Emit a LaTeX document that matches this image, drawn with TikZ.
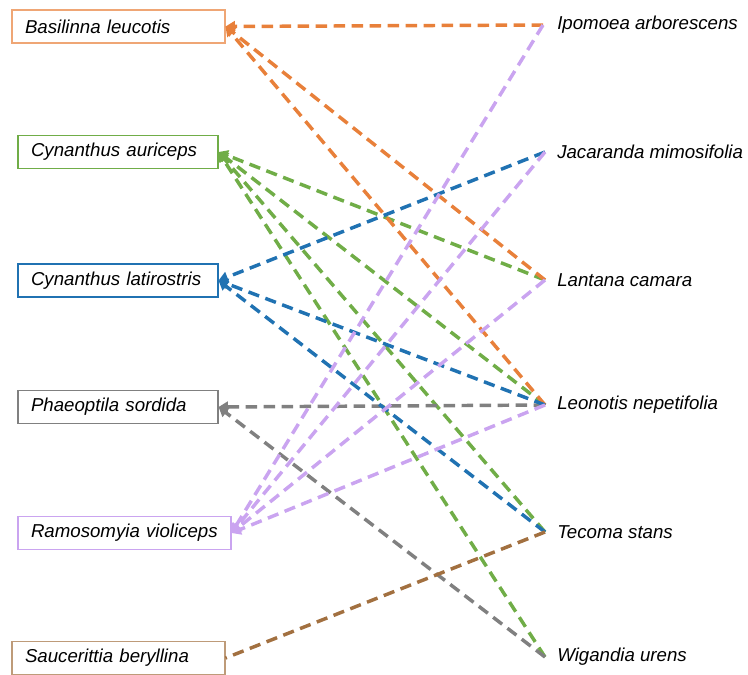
\documentclass[tikz,border=0pt]{standalone}
\usepackage{fontspec}
\setmainfont{Liberation Sans}
\usetikzlibrary{arrows.meta}
\definecolor{corange}{RGB}{232,128,58}
\definecolor{cgreen}{RGB}{112,173,71}
\definecolor{cblue}{RGB}{32,114,178}
\definecolor{cgray}{RGB}{128,128,128}
\definecolor{cpurple}{RGB}{202,164,240}
\definecolor{cbrown}{RGB}{162,112,64}
\tikzset{
  bird/.style={draw=#1, line width=0.8pt, rectangle, inner xsep=9.75pt, inner ysep=0pt,
    minimum height=24.75pt, align=left, font=\fontsize{14}{16}\selectfont\itshape},
  plant/.style={anchor=west, inner sep=0pt, font=\fontsize{14}{16}\selectfont\itshape},
  link/.style={draw=#1, line width=2.6pt, dash pattern=on 8.5pt off 5pt},
  arr/.style={link=#1, -{Triangle[length=7pt,width=8pt]}},
}
\begin{document}
\begin{tikzpicture}[x=0.75pt,y=-0.75pt]
\useasboundingbox (0,0) rectangle (748,674);
\clip (0,0) rectangle (748,674);
% birds
\node[bird=corange!70!white, text width=140.25pt] (bas) at (118.5,26.5) {Basilinna leucotis};
\node[bird=cgreen, text width=130.5pt] (aur) at (118,152) {Cynanthus auriceps};
\node[bird=cblue, text width=130.5pt] (lat) at (118,280.5) {Cynanthus latirostris};
\node[bird=cgray, text width=130.5pt] (pha) at (118,407) {Phaeoptila sordida};
\node[bird=cpurple, text width=140.25pt] (ram) at (124.5,533) {Ramosomyia violiceps};
\node[bird=cbrown!70!white, text width=140.25pt] (sau) at (118.5,658) {Saucerittia beryllina};
% plants
\coordinate (ipo) at (543,25);
\coordinate (jac) at (545,152);
\coordinate (lan) at (545,280);
\coordinate (leo) at (545,405);
\coordinate (tec) at (545,532);
\coordinate (wig) at (545,657);
\node[plant] (ipoT) at (557,25) {Ipomoea arborescens};
\node[plant] (jacT) at (557,152) {Jacaranda mimosifolia};
\node[plant] (lanT) at (557,280) {Lantana camara};
\node[plant] (leoT) at (557,405) {Leonotis nepetifolia};
\node[plant] (tecT) at (557,532) {Tecoma stans};
\node[plant] (wigT) at (557,657) {Wigandia urens};
% links
\draw[arr=cgreen] (lan) -- (aur.east);
\draw[arr=cgreen] (leo) -- (aur.east);
\draw[arr=cgreen] (tec) -- (aur.east);
\draw[arr=cgreen] (wig) -- (aur.east);
\draw[arr=corange] (ipo) -- (bas.east);
\draw[arr=corange] (lan) -- (bas.east);
\draw[arr=corange] (leo) -- (bas.east);
\draw[arr=cgray] (leo) -- (pha.east);
\draw[arr=cgray] (wig) -- (pha.east);
\draw[arr=cblue] (jac) -- (lat.east);
\draw[arr=cblue] (leo) -- (lat.east);
\draw[arr=cblue] (tec) -- (lat.east);
\draw[arr=cpurple] (ipo) -- (ram.east);
\draw[arr=cpurple] (jac) -- (ram.east);
\draw[arr=cpurple] (lan) -- (ram.east);
\draw[arr=cpurple] (leo) -- (ram.east);
\draw[link=cbrown] (tec) -- (sau.east);
\end{tikzpicture}
\end{document}
